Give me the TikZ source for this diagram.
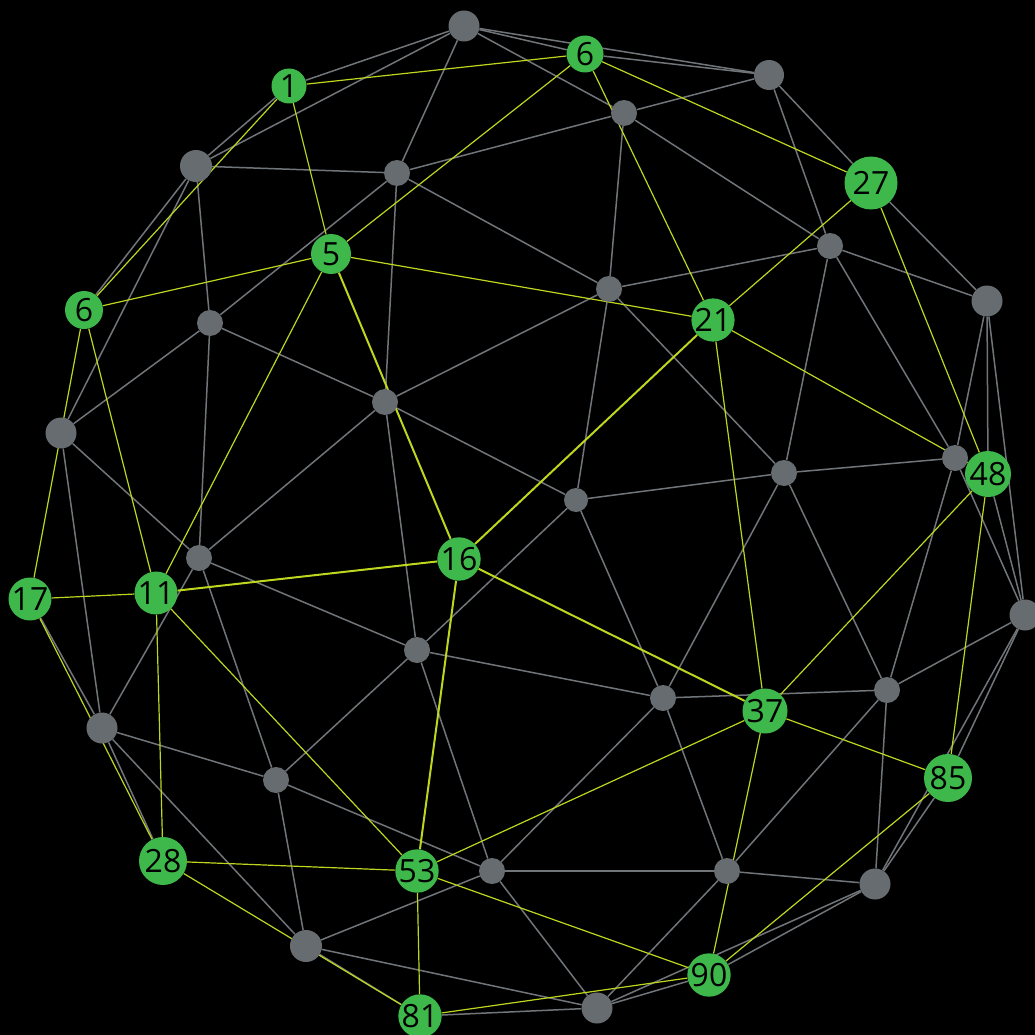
\documentclass[tikz,border=0pt]{standalone}
\usepackage{fontspec}
\setmainfont{Open Sans}
\usetikzlibrary{backgrounds}
\definecolor{ngreen}{RGB}{62,184,74}
\definecolor{ngray}{RGB}{102,108,112}
\definecolor{egray}{RGB}{112,117,121}
\definecolor{eyel}{RGB}{190,214,30}
\begin{document}
\begin{tikzpicture}[x=1pt,y=-1pt,
  gn/.style={circle, fill=ngreen, inner sep=0pt, minimum size=#1*2pt, text=black, font=\fontsize{32}{32}\selectfont},
  rn/.style={circle, fill=ngray, inner sep=0pt, minimum size=#1*2pt},
  ge/.style={draw=egray, line width=1.5pt},
  ye/.style={draw=eyel, line width=1.2pt},
  yt/.style={draw=eyel, line width=2pt}]
\clip (0,0) rectangle (1035,1035);
% gray nodes
\node[rn=15.5] (a) at (464,26) {};
\node[rn=15] (b) at (769,75) {};
\node[rn=13] (c) at (624,113) {};
\node[rn=16] (d) at (196,166) {};
\node[rn=13] (e) at (397,173) {};
\node[rn=13] (f) at (830,246) {};
\node[rn=13] (g) at (609,289) {};
\node[rn=15.5] (h) at (987,301) {};
\node[rn=13] (i) at (210,323) {};
\node[rn=13] (j) at (385,402) {};
\node[rn=15.5] (k) at (61,433) {};
\node[rn=13] (l) at (955,458) {};
\node[rn=13] (m) at (784,473) {};
\node[rn=12] (n) at (576,500) {};
\node[rn=13] (o) at (199,558) {};
\node[rn=15.5] (p) at (1025,615) {};
\node[rn=13] (q) at (417,650) {};
\node[rn=13] (r) at (663,698) {};
\node[rn=13] (s) at (887,690) {};
\node[rn=15.5] (t) at (102,728) {};
\node[rn=13] (u) at (276,780) {};
\node[rn=13] (v) at (492,871) {};
\node[rn=13] (w) at (727,871) {};
\node[rn=15.5] (x) at (875,884) {};
\node[rn=16] (y) at (306,946) {};
\node[rn=15.5] (z) at (597,1008) {};
% green nodes
\node[gn=17.5] (n1) at (289,86) {1};
\node[gn=18.5] (n6a) at (585,54) {6};
\node[gn=26.5] (n27) at (871,183) {27};
\node[gn=20] (n5) at (331,254) {5};
\node[gn=19] (n6b) at (84,310) {6};
\node[gn=19.5] (n21) at (713,320) {21};
\node[gn=23] (n48) at (988,474) {48};
\node[gn=21] (n16) at (459,559) {16};
\node[gn=20] (n17) at (30,599) {17};
\node[gn=19.5] (n11) at (156,593) {11};
\node[gn=22.5] (n37) at (765,711) {37};
\node[gn=24] (n85) at (948,778) {85};
\node[gn=24] (n28) at (163,861) {28};
\node[gn=19.5] (n53) at (417,871) {53};
\node[gn=21] (n90) at (709,975) {90};
\node[gn=19.5] (n81) at (420,1016) {81};
\begin{scope}[on background layer]
\fill[black] (0,0) rectangle (1035,1035);
\foreach \u/\v in {a/n1,a/d,a/e,a/c,a/n6a,a/b,n6a/b,b/c,b/f,b/n27,n27/h,c/e,c/g,c/f,
  d/n1,d/e,d/i,d/k,d/n6b,e/i,e/j,e/g,f/g,f/h,f/m,f/l,g/n,g/j,g/m,h/l,h/n48,h/p,
  i/j,i/k,i/o,j/o,j/q,j/n,k/o,k/t,l/m,l/s,l/p,n48/p,m/n,m/r,m/s,n/r,n/q,o/q,o/t,o/u,
  p/s,p/x,p/n85,n85/x,q/u,q/v,q/r,r/s,r/w,r/v,s/x,s/w,n17/t,t/n28,t/u,t/y,u/y,u/v,
  v/w,v/y,v/z,w/x,w/z,x/n90,x/z,y/z,y/n81,n81/z,z/n90}
  \draw[ge] (\u) -- (\v);
\foreach \u/\v in {n1/n6a,n1/n5,n1/n6b,n5/n6b,n5/n6a,n5/n21,n5/n11,n6b/n17,n6b/n11,
  n6a/n21,n6a/n27,n27/n21,n27/n48,n21/n48,n21/n37,n48/n37,n48/n85,n37/n85,n37/n90,
  n37/n53,n17/n11,n17/n28,n11/n28,n11/n53,n28/n53,n28/n81,n53/n81,n53/n90,n81/n90,n85/n90}
  \draw[ye] (\u) -- (\v);
\foreach \u/\v in {n5/n16,n21/n16,n11/n16,n16/n37,n16/n53}
  \draw[yt] (\u) -- (\v);
\end{scope}
\end{tikzpicture}
\end{document}
